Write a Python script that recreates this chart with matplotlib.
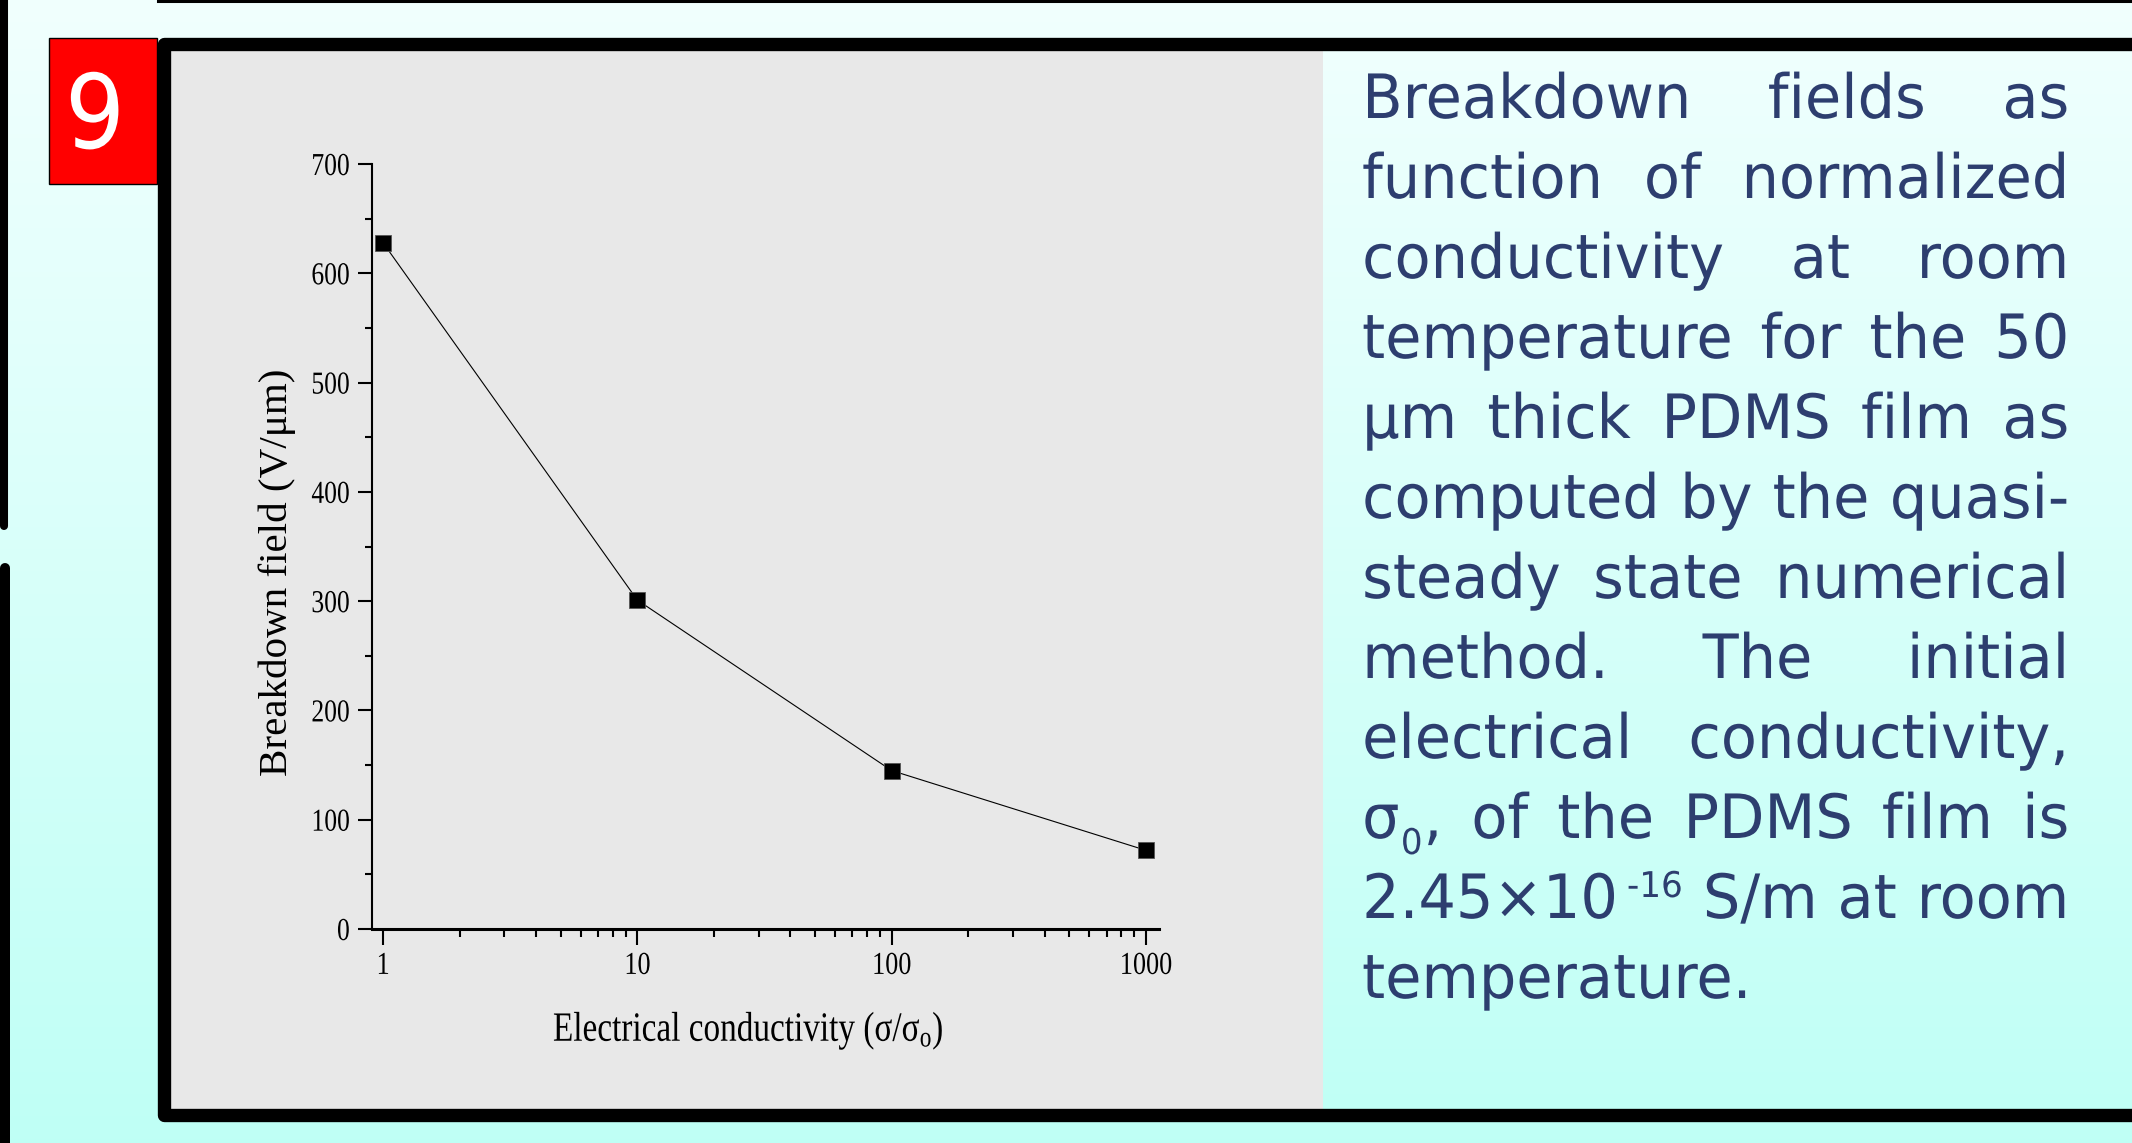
import re
import numpy as np
import matplotlib
matplotlib.use("Agg")
import matplotlib.pyplot as plt
from matplotlib.patches import Rectangle
from matplotlib.patheffects import AbstractPathEffect
from matplotlib.transforms import Affine2D
from matplotlib.ticker import FixedLocator, NullFormatter, MultipleLocator

# breakdown field vs normalized conductivity
conductivity = [1, 10, 100, 1000]
breakdown_field = [628, 301, 145, 72]

x_ticks = [1, 10, 100, 1000]
x_tick_labels = ["1", "10", "100", "1000"]
x_minor = [m * 10 ** d for d in range(3) for m in range(2, 10)]
y_ticks = [0, 100, 200, 300, 400, 500, 600, 700]

x_label = "Electrical conductivity (σ/σ$_\\mathrm{o}$)"
y_label = "Breakdown field (V/μm)"
slide_number = "9"

caption_lines = [
    "Breakdown fields as",
    "function of normalized",
    "conductivity at room",
    "temperature for the 50",
    "μm thick PDMS film as",
    "computed by the quasi-",
    "steady state numerical",
    "method. The initial",
    "electrical conductivity,",
    "σ_{0}, of the PDMS film is",
    "2.45×10^{-16} S/m at room",
    "temperature.",
]

W, H = 2132, 1143
plt.rcParams["font.family"] = ["Liberation Serif", "DejaVu Serif"]
plt.rcParams["mathtext.fontset"] = "custom"
plt.rcParams["mathtext.rm"] = "Liberation Serif"
plt.rcParams["mathtext.it"] = "Liberation Serif:italic"


class Squeeze(AbstractPathEffect):
    """Narrow the glyphs horizontally around a point of the text."""

    def __init__(self, sx, anchor=0.5):
        super().__init__()
        self.sx = sx
        self.anchor = anchor

    def draw_path(self, renderer, gc, tpath, affine, rgbFace=None):
        ext = tpath.get_extents()
        cx = ext.x0 + self.anchor * ext.width
        sq = Affine2D().translate(-cx, 0).scale(self.sx, 1).translate(cx, 0)
        renderer.draw_path(gc, tpath, sq + affine, rgbFace)


fig = plt.figure(figsize=(W / 100, H / 100), dpi=100)
renderer = fig.canvas.get_renderer()

# slide background in pixel coordinates
bg = fig.add_axes([0, 0, 1, 1])
grad = np.linspace(0, 1, 256)[:, None, None]
top_c = np.array([0.945, 1.0, 0.996])
bot_c = np.array([0.749, 1.0, 0.963])
bg.imshow(top_c + (bot_c - top_c) * grad, extent=(0, W, H, 0), aspect="auto", zorder=0)
bg.set_xlim(0, W)
bg.set_ylim(H, 0)
bg.axis("off")

bg.plot([4, 4], [-10, 526], color="black", lw=5.8, solid_capstyle="round", zorder=1)
bg.plot([5, 5], [568, H + 10], color="black", lw=7.2, solid_capstyle="round", zorder=1)
bg.plot([158, W + 10], [0.5, 0.5], color="black", lw=2.2, zorder=1)

bg.add_patch(Rectangle((163.5, 43.5), 1323 - 163.5, 1115 - 43.5, fc="#e8e8e8", ec="none", zorder=1))
bg.plot([W + 20, 163.5, 163.5, W + 20], [43.5, 43.5, 1115, 1115], color="black", lw=9.6,
        solid_joinstyle="round", zorder=2)

bg.add_patch(Rectangle((49, 38), 108, 146, fc="#ff0000", ec="black", lw=1, zorder=3))
bg.text(95, 148, slide_number, color="white", fontsize=74, family="DejaVu Sans",
        ha="center", va="baseline", path_effects=[Squeeze(0.92)], zorder=4)

# caption on the right, justified word by word
cap_size = 44
sub_size = cap_size * 0.58
cap_color = "#2d3e6f"
left_x, right_x = 1362, 2069
first_base, line_step = 118, 80
sx = 0.965


def parse_word(word):
    segs, pos = [], 0
    for m in re.finditer(r"([_^])\{([^}]*)\}", word):
        if m.start() > pos:
            segs.append((word[pos:m.start()], "normal"))
        segs.append((m.group(2), "sub" if m.group(1) == "_" else "sup"))
        pos = m.end()
    if pos < len(word):
        segs.append((word[pos:], "normal"))
    return segs


def seg_width(text, kind):
    size = cap_size if kind == "normal" else sub_size
    t = bg.text(0, 0, text, fontsize=size, family="DejaVu Sans")
    w = t.get_window_extent(renderer).width
    t.remove()
    return w


space_w = 0.318 * cap_size * 100 / 72
target = right_x - left_x
for i, line in enumerate(caption_lines):
    words = [parse_word(w) for w in line.split()]
    widths = [[seg_width(s, k) for s, k in w] for w in words]
    # pieces inside a word keep their full width so sub/superscripts do not collide
    word_w = [sx * ws[-1] + sum(ws[:-1]) for ws in widths]
    base = first_base + i * line_step
    total = sum(word_w)
    if i < len(caption_lines) - 1 and len(words) > 1:
        gap = max((target - total) / (len(words) - 1), 0.55 * space_w)
    else:
        gap = space_w * sx
    x = left_x
    for segs, ws in zip(words, widths):
        for j, ((s, kind), w) in enumerate(zip(segs, ws)):
            size = cap_size if kind == "normal" else sub_size
            dy = {"normal": 0, "sub": 16, "sup": -21}[kind]
            bg.text(x, base + dy, s, fontsize=size, family="DejaVu Sans", color=cap_color,
                    ha="left", va="baseline", path_effects=[Squeeze(sx, 0.0)], zorder=4)
            x += w if j < len(segs) - 1 else sx * w
        x += gap

# the chart
ax = fig.add_axes([372 / W, 1 - 929 / H, (1159 - 372) / W, (929 - 164) / H])
ax.patch.set_visible(False)
ax.plot(conductivity, breakdown_field, color="black", lw=0.8, marker="s", ms=11,
        mfc="black", mec="#555555", mew=0.6)
ax.set_xscale("log")
ax.set_xlim(0.9052, 1126)
ax.set_ylim(0, 700)
for side in ["top", "right"]:
    ax.spines[side].set_visible(False)
ax.spines["left"].set_linewidth(1.5)
ax.spines["bottom"].set_linewidth(2.2)

ax.xaxis.set_major_locator(FixedLocator(x_ticks))
ax.set_xticklabels(x_tick_labels)
ax.xaxis.set_minor_locator(FixedLocator(x_minor))
ax.xaxis.set_minor_formatter(NullFormatter())
ax.set_yticks(y_ticks)
ax.yaxis.set_minor_locator(MultipleLocator(50))

ax.tick_params(axis="x", which="major", direction="out", length=11.5, width=1.5, pad=5, labelsize=23)
ax.tick_params(axis="x", which="minor", direction="out", length=6, width=1.5)
ax.tick_params(axis="y", which="major", direction="out", length=10, width=1.5, pad=5.8, labelsize=23)
ax.tick_params(axis="y", which="minor", direction="out", length=5, width=1.5)
for lab in ax.get_xticklabels():
    lab.set_path_effects([Squeeze(0.82)])
for lab in ax.get_yticklabels():
    lab.set_path_effects([Squeeze(0.8, 1.0)])

ax.set_ylabel(y_label, fontsize=29.5, va="center")
ax.yaxis.set_label_coords((277 - 372) / (1159 - 372), (929 - 572) / (929 - 164))
xl = ax.set_xlabel(x_label, fontsize=30, va="center")
ax.xaxis.set_label_coords((748 - 372) / (1159 - 372), (929 - 1031) / (929 - 164))
xl_w = xl.get_window_extent(renderer).width
xl.set_path_effects([Squeeze(390 / xl_w)])

fig.savefig("out.png", dpi=100)
